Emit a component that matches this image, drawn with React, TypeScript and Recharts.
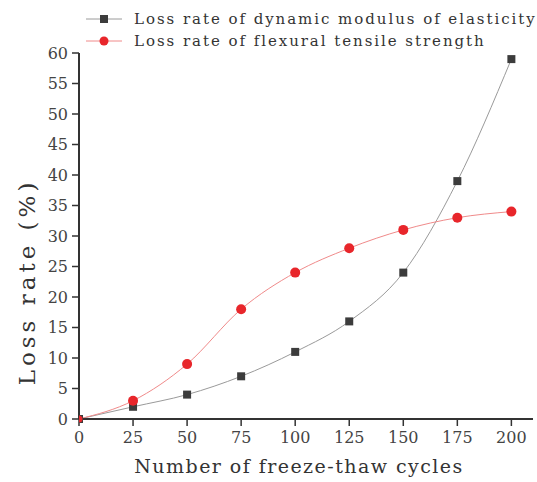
import React from 'react';
import { LineChart, Line, XAxis, YAxis, Legend } from 'recharts';

const cycles = [0, 25, 50, 75, 100, 125, 150, 175, 200];
const dynamicModulusLoss = [0, 2, 4, 7, 11, 16, 24, 39, 59];
const flexuralStrengthLoss = [0, 3, 9, 18, 24, 28, 31, 33, 34];
const xTicks = [0, 25, 50, 75, 100, 125, 150, 175, 200];
const yTicks = [0, 5, 10, 15, 20, 25, 30, 35, 40, 45, 50, 55, 60];

const seriesNames = {
  dm: 'Loss rate of dynamic modulus of elasticity',
  fs: 'Loss rate of flexural tensile strength',
};
const xTitle = 'Number of freeze-thaw cycles';
const yTitle = 'Loss rate (%)';

const data = cycles.map((c, i) => ({
  cycles: c,
  dm: dynamicModulusLoss[i],
  fs: flexuralStrengthLoss[i],
}));

const FONT = 'DejaVu Serif';
const AXIS = '#333333';
const BLACK_MARK = '#3c3c3c';
const BLACK_LINE = '#9a9a9a';
const RED_MARK = '#e8262b';
const RED_LINE = '#f08a8a';

const SquareDot = (props: any) => {
  const { cx, cy } = props;
  if (cx == null || cy == null) return null;
  return <rect x={cx - 4} y={cy - 4} width={8} height={8} fill={BLACK_MARK} />;
};

const CircleDot = (props: any) => {
  const { cx, cy, index } = props;
  if (cx == null || cy == null) return null;
  const r = index === 0 ? 3.5 : 5;
  return <circle cx={cx} cy={cy} r={r} fill={RED_MARK} />;
};

const LegendContent = () => {
  const items = [
    { name: seriesNames.dm, line: BLACK_LINE, kind: 'square' },
    { name: seriesNames.fs, line: RED_LINE, kind: 'circle' },
  ];
  return (
    <svg width={460} height={50} style={{ display: 'block' }}>
      {items.map((it, i) => {
        const y = 11 + i * 22;
        return (
          <g key={it.name}>
            <line x1={0} x2={36} y1={y} y2={y} stroke={it.line} strokeWidth={1} />
            {it.kind === 'square' ? (
              <rect x={14} y={y - 4} width={8} height={8} fill={BLACK_MARK} />
            ) : (
              <circle cx={18} cy={y} r={4.5} fill={RED_MARK} />
            )}
            <text
              x={48}
              y={y}
              dy="0.35em"
              fontFamily={FONT}
              fontSize={15}
              letterSpacing={1.95}
              fill="#333"
            >
              {it.name}
            </text>
          </g>
        );
      })}
    </svg>
  );
};

const YTitle = (props: any) => {
  const { viewBox } = props;
  if (!viewBox) return null;
  const x = viewBox.x + 8;
  const y = viewBox.y + viewBox.height / 2 + 46;
  return (
    <text
      x={x}
      y={y}
      textAnchor="middle"
      dominantBaseline="central"
      transform={`rotate(-90 ${x} ${y})`}
      fontFamily={FONT}
      fontSize={23}
      letterSpacing={4}
      fill="#333"
    >
      {yTitle}
    </text>
  );
};

export default function App() {
  return (
    <div style={{ position: 'absolute', left: 0, top: 0 }}>
      <LineChart
        width={537}
        height={482}
        data={data}
        margin={{ top: 53, right: 4, bottom: 8, left: 19 }}
      >
        <XAxis
          dataKey="cycles"
          type="number"
          domain={[0, 210]}
          ticks={xTicks}
          allowDataOverflow
          axisLine={{ stroke: AXIS, strokeWidth: 2 }}
          tickLine={{ stroke: AXIS, strokeWidth: 1.5 }}
          tickSize={7}
          tickMargin={6}
          tick={{ fill: '#444', fontSize: 16, fontFamily: FONT }}
          height={55}
          label={{
            value: xTitle,
            position: 'insideBottom',
            offset: 1,
            fill: '#333',
            fontSize: 19,
            fontFamily: FONT,
            letterSpacing: 1.45,
            dx: -7,
          }}
        />
        <YAxis
          type="number"
          domain={[0, 60]}
          ticks={yTicks}
          interval={0}
          axisLine={{ stroke: AXIS, strokeWidth: 2 }}
          tickLine={{ stroke: AXIS, strokeWidth: 1.5 }}
          tickSize={7}
          tickMargin={4}
          tick={{ fill: '#444', fontSize: 16, fontFamily: FONT }}
          width={60}
          label={<YTitle />}
        />
        <Legend
          layout="vertical"
          align="center"
          verticalAlign="middle"
          wrapperStyle={{ top: 8, left: 86, width: 460, height: 50 }}
          content={<LegendContent />}
        />
        <Line
          name={seriesNames.dm}
          dataKey="dm"
          type="monotone"
          stroke={BLACK_LINE}
          strokeWidth={1}
          dot={<SquareDot />}
          activeDot={false}
          isAnimationActive={false}
        />
        <Line
          name={seriesNames.fs}
          dataKey="fs"
          type="monotone"
          stroke={RED_LINE}
          strokeWidth={1}
          dot={<CircleDot />}
          activeDot={false}
          isAnimationActive={false}
        />
      </LineChart>
    </div>
  );
}
